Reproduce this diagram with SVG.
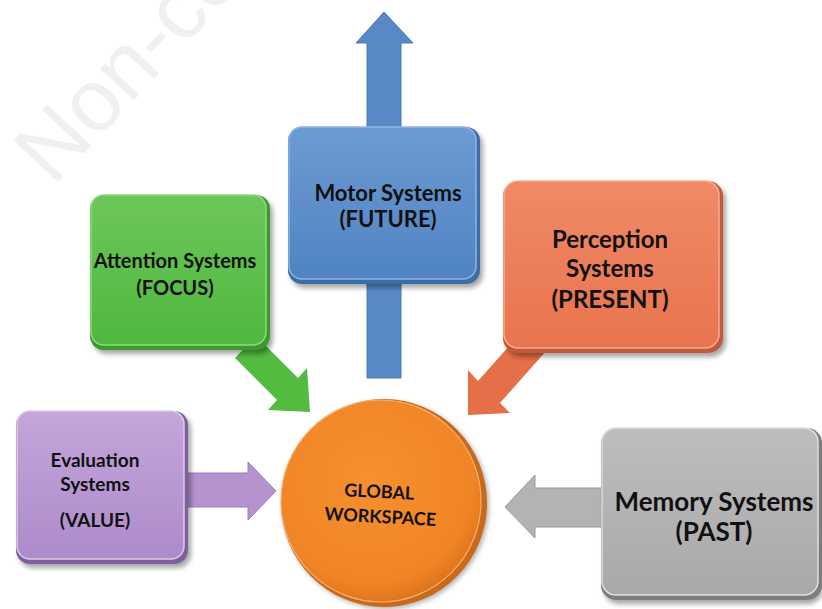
<svg xmlns="http://www.w3.org/2000/svg" width="822" height="609" viewBox="0 0 822 609">
<style>
.lbl{font-family:Lato,"Liberation Sans",sans-serif;font-weight:bold;fill:#111;text-anchor:middle}
.wm{font-family:"Liberation Sans",Arial,sans-serif;fill:#f0f0f0}
</style>
<defs>
<linearGradient id="gBlue" x1="0" y1="0" x2="0" y2="1"><stop offset="0" stop-color="#6d9bd3"/><stop offset="1" stop-color="#4f83c2"/></linearGradient>
<linearGradient id="gGreen" x1="0" y1="0" x2="0" y2="1"><stop offset="0" stop-color="#6cc75a"/><stop offset="1" stop-color="#4fb83e"/></linearGradient>
<linearGradient id="gRed" x1="0" y1="0" x2="0" y2="1"><stop offset="0" stop-color="#f08a66"/><stop offset="1" stop-color="#e8744e"/></linearGradient>
<linearGradient id="gPurple" x1="0" y1="0" x2="0" y2="1"><stop offset="0" stop-color="#c3a6da"/><stop offset="1" stop-color="#ad8bca"/></linearGradient>
<linearGradient id="gGray" x1="0" y1="0" x2="0" y2="1"><stop offset="0" stop-color="#bdbdbd"/><stop offset="1" stop-color="#a9a9a9"/></linearGradient>
<radialGradient id="gOrange" cx="0.45" cy="0.4" r="0.6"><stop offset="0" stop-color="#f7902f"/><stop offset="0.85" stop-color="#f08526"/><stop offset="1" stop-color="#e0761c"/></radialGradient>
<filter id="sh" x="-10%" y="-10%" width="130%" height="130%"><feGaussianBlur stdDeviation="2.5"/></filter>
</defs>

<text class="wm" font-size="88" transform="translate(53,187) rotate(-47)">Non-co</text>

<g id="connectors">
  <path d="M367,378 L367,43 L356,43 L384,12 L413,43 L401,43 L401,378 Z" fill="#5889c4" stroke="#4a79b2" stroke-width="1"/>
  <path d="M235,358 L256,336 L298,378 L307,368 L310,412 L268,410 L277,400 Z" fill="#52bb40"/>
  <path d="M547,350 L525,328 L478,381 L468,370 L468,415 L510,413 L500,403 Z" fill="#e56f48"/>
  <path d="M185,473 L248,473 L248,462 L276,491 L248,520 L248,507 L185,507 Z" fill="#b493cf" stroke="#9e7cbb" stroke-width="1"/>
  <path d="M605,488 L535,488 L535,475 L505,507 L535,538 L535,527 L605,527 Z" fill="#b3b3b3" stroke="#9a9a9a" stroke-width="1"/>
</g>

<g id="motor">
  <rect x="291" y="131" width="192" height="157" rx="14" fill="#000" opacity="0.35" filter="url(#sh)"/>
  <rect x="288" y="127" width="192" height="157" rx="14" fill="#3d6da8"/>
  <rect x="289" y="127" width="187" height="152" rx="13" fill="url(#gBlue)" stroke="#8db4e2" stroke-width="1.5"/>
  <text class="lbl" x="388" y="201" font-size="22">Motor Systems</text>
  <text class="lbl" x="388" y="227" font-size="22">(FUTURE)</text>
</g>

<g id="attention">
  <rect x="93" y="199" width="180" height="155" rx="14" fill="#000" opacity="0.35" filter="url(#sh)"/>
  <rect x="90" y="195" width="180" height="155" rx="14" fill="#3c9a2d"/>
  <rect x="91" y="195" width="175" height="150" rx="13" fill="url(#gGreen)" stroke="#8ed97f" stroke-width="1.5"/>
  <text class="lbl" x="175" y="268" font-size="20">Attention Systems</text>
  <text class="lbl" x="175" y="295" font-size="20">(FOCUS)</text>
</g>

<g id="perception">
  <rect x="506" y="185" width="220" height="172" rx="15" fill="#000" opacity="0.35" filter="url(#sh)"/>
  <rect x="503" y="181" width="220" height="172" rx="15" fill="#c4583a"/>
  <rect x="504" y="181" width="215" height="167" rx="14" fill="url(#gRed)" stroke="#f6ad92" stroke-width="1.5"/>
  <text class="lbl" x="610" y="248" font-size="24">Perception</text>
  <text class="lbl" x="610" y="277" font-size="24">Systems</text>
  <text class="lbl" x="610" y="308" font-size="24">(PRESENT)</text>
</g>

<g id="evaluation">
  <rect x="19" y="415" width="172" height="153" rx="14" fill="#000" opacity="0.35" filter="url(#sh)"/>
  <rect x="16" y="411" width="172" height="153" rx="14" fill="#7e5e9c"/>
  <rect x="17" y="411" width="167" height="148" rx="13" fill="url(#gPurple)" stroke="#dccbea" stroke-width="1.5"/>
  <text class="lbl" x="95" y="467" font-size="19">Evaluation</text>
  <text class="lbl" x="95" y="491" font-size="19">Systems</text>
  <text class="lbl" x="95" y="527" font-size="19">(VALUE)</text>
</g>

<g id="memory">
  <rect x="604" y="432" width="219" height="172" rx="15" fill="#000" opacity="0.35" filter="url(#sh)"/>
  <rect x="601" y="428" width="221" height="172" rx="15" fill="#7d7d7d"/>
  <rect x="602" y="428" width="216" height="167" rx="14" fill="url(#gGray)" stroke="#dedede" stroke-width="1.5"/>
  <text class="lbl" x="714" y="511" font-size="26">Memory Systems</text>
  <text class="lbl" x="714" y="541" font-size="26">(PAST)</text>
</g>

<g id="workspace">
  <ellipse cx="386" cy="505" rx="103" ry="104" fill="#000" opacity="0.3" filter="url(#sh)"/>
  <ellipse cx="384" cy="503" rx="103" ry="104" fill="#c9691a"/>
  <ellipse cx="381" cy="501" rx="100" ry="101" fill="url(#gOrange)" stroke="#f7b070" stroke-width="1.2"/>
  <text class="lbl" font-size="18" transform="translate(379,498) rotate(3)">GLOBAL</text>
  <text class="lbl" font-size="18" transform="translate(380,523) rotate(3)">WORKSPACE</text>
</g>
</svg>
